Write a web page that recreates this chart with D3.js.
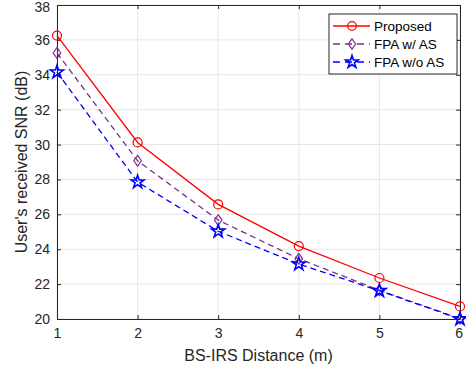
<!DOCTYPE html>
<html>
<head>
<meta charset="utf-8">
<script src="https://cdn.jsdelivr.net/npm/d3@7"></script>
<style>
body { margin: 0; background: #fff; }
svg { font-family: "Liberation Sans", Arial, Helvetica, sans-serif; }
</style>
</head>
<body>
<div id="chart"></div>
<script>
var distances = [1, 2, 3, 4, 5, 6];
var proposed = [36.25, 30.12, 26.57, 24.18, 22.35, 20.72];
var fpaWithAS = [35.25, 29.07, 25.67, 23.45, 21.65, 20.02];
var fpaWithoutAS = [34.15, 27.85, 25.03, 23.15, 21.62, 20.0];
var xTicks = [1, 2, 3, 4, 5, 6];
var yTicks = [20, 22, 24, 26, 28, 30, 32, 34, 36, 38];

var series = [
    {name: "Proposed", values: proposed, color: "#ff0000", dash: null, marker: "circle"},
    {name: "FPA w/ AS", values: fpaWithAS, color: "#7e2f8e", dash: "6,4", marker: "diamond"},
    {name: "FPA w/o AS", values: fpaWithoutAS, color: "#0000ff", dash: "6,4", marker: "star"}
];

var W = 466, H = 374;
var margin = {top: 5, right: 6, bottom: 55, left: 57};
var width = W - margin.left - margin.right,
    height = H - margin.top - margin.bottom;

var x = d3.scaleLinear().domain([1, 6]).range([0, width]);
var y = d3.scaleLinear().domain([20, 38]).range([height, 0]);

var svg = d3.select("#chart").append("svg")
    .attr("width", W)
    .attr("height", H);
var g = svg.append("g")
    .attr("transform", "translate(" + margin.left + "," + margin.top + ")");

// grid
g.append("g").selectAll("line")
    .data(xTicks)
    .enter().append("line")
    .attr("x1", function (d) { return x(d); })
    .attr("x2", function (d) { return x(d); })
    .attr("y1", 0).attr("y2", height)
    .attr("stroke", "#e6e6e6").attr("stroke-width", 1);
g.append("g").selectAll("line")
    .data(yTicks)
    .enter().append("line")
    .attr("y1", function (d) { return y(d); })
    .attr("y2", function (d) { return y(d); })
    .attr("x1", 0).attr("x2", width)
    .attr("stroke", "#e6e6e6").attr("stroke-width", 1);

// axes
var axisColor = "#262626";
var xAxis = g.append("g")
    .attr("transform", "translate(0," + height + ")")
    .call(d3.axisBottom(x).tickValues(xTicks).tickFormat(d3.format("d"))
        .tickSizeInner(-4).tickSizeOuter(0).tickPadding(9));
var xTop = g.append("g")
    .call(d3.axisTop(x).tickValues(xTicks).tickSizeInner(-4).tickSizeOuter(0).tickFormat(""));
var yAxis = g.append("g")
    .call(d3.axisLeft(y).tickValues(yTicks).tickFormat(d3.format("d"))
        .tickSizeInner(-4).tickSizeOuter(0).tickPadding(7));
var yRight = g.append("g")
    .attr("transform", "translate(" + width + ",0)")
    .call(d3.axisRight(y).tickValues(yTicks).tickSizeInner(-4).tickSizeOuter(0).tickFormat(""));

[xAxis, xTop, yAxis, yRight].forEach(function (a) {
    a.select(".domain").attr("stroke", axisColor).attr("stroke-width", 1);
    a.selectAll(".tick line").attr("stroke", axisColor);
    a.selectAll("text").attr("fill", axisColor)
        .style("font-size", "14px")
        .style("font-family", "'Liberation Sans', Arial, sans-serif");
});
// keep the top label inside the window
yAxis.selectAll(".tick text").filter(function (d) { return d === 38; }).attr("dy", "0.45em");
xAxis.selectAll(".tick text").filter(function (d) { return d === 6; }).attr("dx", "-0.1em");

// markers
function drawMarker(sel, type, color, size) {
    if (type === "circle") {
        sel.append("circle").attr("r", size)
            .attr("fill", "none").attr("stroke", color).attr("stroke-width", 1.2);
    } else if (type === "diamond") {
        var s = size * 1.2;
        sel.append("path")
            .attr("d", "M0," + (-s) + "L" + (s * 0.7) + ",0L0," + s + "L" + (-s * 0.7) + ",0Z")
            .attr("fill", "none").attr("stroke", color).attr("stroke-width", 1.2);
    } else {
        sel.append("path")
            .attr("d", d3.symbol().type(d3.symbolStar).size(size * size * 2.6)())
            .attr("fill", "none").attr("stroke", color).attr("stroke-width", 1.6);
    }
}

var line = d3.line()
    .x(function (d, i) { return x(distances[i]); })
    .y(function (d) { return y(d); });

series.forEach(function (s) {
    g.append("path")
        .datum(s.values)
        .attr("d", line)
        .attr("fill", "none")
        .attr("stroke", s.color)
        .attr("stroke-width", 1.3)
        .attr("stroke-dasharray", s.dash);
    s.values.forEach(function (v, i) {
        var m = g.append("g")
            .attr("transform", "translate(" + x(distances[i]) + "," + y(v) + ")");
        drawMarker(m, s.marker, s.color, 4.5);
    });
});

// axis labels
svg.append("text")
    .attr("x", margin.left + width / 2)
    .attr("y", 361)
    .attr("text-anchor", "middle")
    .attr("fill", axisColor)
    .style("font-size", "16px")
    .text("BS-IRS Distance (m)");
svg.append("text")
    .attr("transform", "translate(27," + (margin.top + height / 2) + ") rotate(-90)")
    .attr("text-anchor", "middle")
    .attr("fill", axisColor)
    .style("font-size", "16px")
    .text("User's received SNR (dB)");

// legend
var lg = svg.append("g").attr("transform", "translate(329,14)");
lg.append("rect")
    .attr("width", 128).attr("height", 60)
    .attr("fill", "#fff").attr("stroke", axisColor).attr("stroke-width", 1);
series.forEach(function (s, i) {
    var row = lg.append("g").attr("transform", "translate(0," + (12 + i * 18) + ")");
    row.append("line")
        .attr("x1", 4).attr("x2", 41)
        .attr("stroke", s.color).attr("stroke-width", 1.3)
        .attr("stroke-dasharray", s.dash ? "7,5" : null);
    var m = row.append("g").attr("transform", "translate(23,0)");
    drawMarker(m, s.marker, s.color, 4.3);
    row.append("text")
        .attr("x", 45).attr("y", 5)
        .attr("fill", "#000")
        .style("font-size", "13.5px")
        .text(s.name);
});
</script>
</body>
</html>
